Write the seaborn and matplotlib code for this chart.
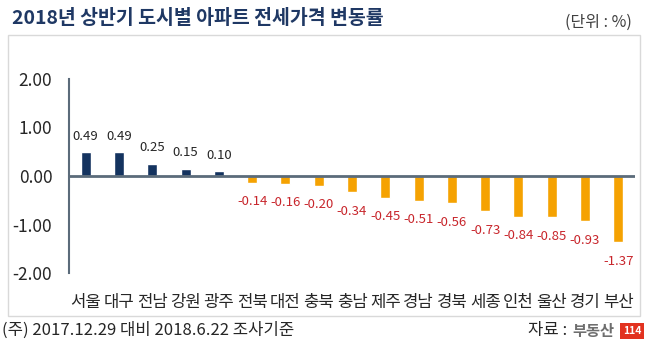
import matplotlib
matplotlib.use("Agg")
import matplotlib.pyplot as plt
from matplotlib.patches import Rectangle
import seaborn as sns
import pandas as pd

# ---- data ----
cities = ["서울", "대구", "전남", "강원", "광주", "전북", "대전", "충북", "충남",
          "제주", "경남", "경북", "세종", "인천", "울산", "경기", "부산"]
changes = [0.49, 0.49, 0.25, 0.15, 0.10, -0.14, -0.16, -0.20, -0.34,
           -0.45, -0.51, -0.56, -0.73, -0.84, -0.85, -0.93, -1.37]
y_ticks = [2.0, 1.0, 0.0, -1.0, -2.0]
title = "2018년 상반기 도시별 아파트 전세가격 변동률"
unit_text = "(단위 : %)"
note_text = "(주) 2017.12.29 대비 2018.6.22 조사기준"
source_text = "자료 :"

sns.set_theme(style="white")
FONT = ["Noto Sans CJK KR", "DejaVu Sans"]
plt.rcParams["font.family"] = FONT

NAVY = "#14335F"
ORANGE = "#F5A202"
RED = "#C8262C"
AXIS = "#5B6B7A"
DARK = "#262626"

df = pd.DataFrame({"city": cities, "change": changes})
df["dir"] = ["up" if v >= 0 else "down" for v in changes]

fig = plt.figure(figsize=(6.48, 3.47), dpi=100)
# chart frame
fig.patches.append(Rectangle((8 / 648, 1 - 316 / 347), 632 / 648, 281 / 347,
                             transform=fig.transFigure, fill=False,
                             edgecolor="#D9D9D9", linewidth=1.0))

ax = fig.add_axes([69 / 648, 1 - 273 / 347, 566 / 648, 194 / 347])
sns.barplot(data=df, x="city", y="change", hue="dir",
            palette={"up": NAVY, "down": ORANGE}, dodge=False,
            width=0.30, legend=False, ax=ax, saturation=1)

ax.set_ylim(-2, 2)
ax.set_xlim(-0.5, len(cities) - 0.5)
ax.set_yticks(y_ticks)
ax.set_yticklabels([f"{t:.2f}" for t in y_ticks], fontsize=12.5, color=DARK)
ax.tick_params(axis="y", length=0, pad=12)
ax.tick_params(axis="x", length=0, pad=15, labelsize=12, colors=DARK)
ax.set_xlabel("")
ax.set_ylabel("")
for s in ["top", "right", "bottom"]:
    ax.spines[s].set_visible(False)
ax.spines["left"].set_color(AXIS)
ax.spines["left"].set_linewidth(1.5)
ax.axhline(0, color=AXIS, linewidth=2, zorder=3)
ax.set_facecolor("none")

for i, v in enumerate(changes):
    if v >= 0:
        ax.annotate(f"{v:.2f}", (i, v), xytext=(0, 16), textcoords="offset pixels",
                    ha="center", va="center", fontsize=9.5, color=DARK)
    else:
        ax.annotate(f"{v:.2f}", (i, v), xytext=(0, -19), textcoords="offset pixels",
                    ha="center", va="center", fontsize=9.5, color=RED)

fig.text(12 / 648, 1 - 18 / 347, title, fontsize=14, fontweight="bold",
         color="#1F3864", ha="left", va="center")
fig.text(632 / 648, 1 - 22 / 347, unit_text, fontsize=11.5, color="#404040",
         ha="right", va="center")
fig.text(2 / 648, 1 - 330 / 347, note_text, fontsize=12, color=DARK,
         ha="left", va="center")
fig.text(528 / 648, 1 - 330 / 347, source_text, fontsize=12, color=DARK,
         ha="left", va="center")
fig.text(572 / 648, 1 - 331 / 347, "부동산", fontsize=11, fontweight="heavy",
         color="#6E6E6E", ha="left", va="center")
fig.text(632 / 648, 1 - 331 / 347, "114", fontsize=7.5, fontweight="bold",
         color="white", ha="center", va="center",
         bbox=dict(boxstyle="square,pad=0.25", facecolor="#E2321F", edgecolor="none"))

fig.savefig("out.png", dpi=100)
